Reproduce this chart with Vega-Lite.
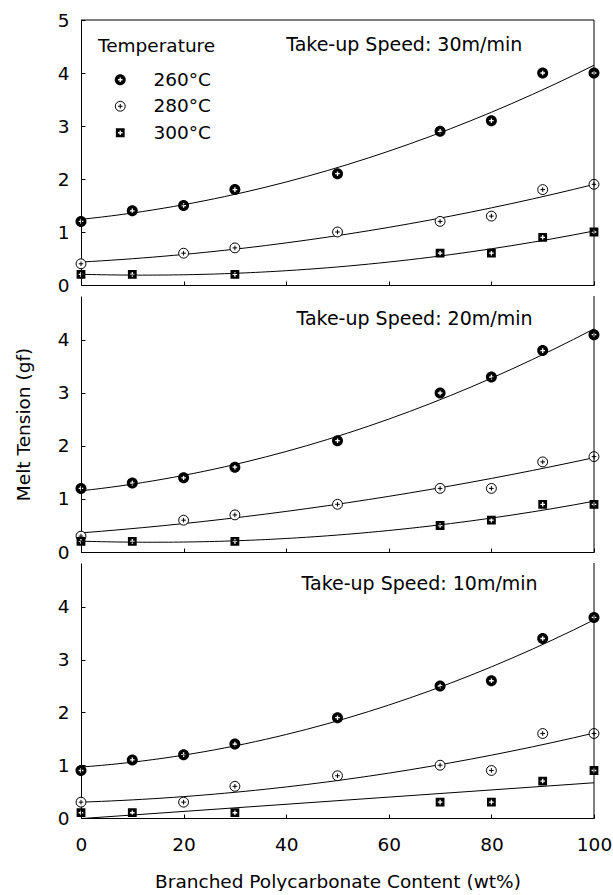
{
  "$schema": "https://vega.github.io/schema/vega-lite/v6.json",
  "padding": {"left": 14, "top": 11, "right": 0, "bottom": 0},
  "spacing": 0,
  "datasets": {
    "melt": [
      {"speed": 30, "temperature": "260°C", "content": 0, "tension": 1.2},
      {"speed": 30, "temperature": "260°C", "content": 10, "tension": 1.4},
      {"speed": 30, "temperature": "260°C", "content": 20, "tension": 1.5},
      {"speed": 30, "temperature": "260°C", "content": 30, "tension": 1.8},
      {"speed": 30, "temperature": "260°C", "content": 50, "tension": 2.1},
      {"speed": 30, "temperature": "260°C", "content": 70, "tension": 2.9},
      {"speed": 30, "temperature": "260°C", "content": 80, "tension": 3.1},
      {"speed": 30, "temperature": "260°C", "content": 90, "tension": 4.0},
      {"speed": 30, "temperature": "260°C", "content": 100, "tension": 4.0},
      {"speed": 30, "temperature": "280°C", "content": 0, "tension": 0.4},
      {"speed": 30, "temperature": "280°C", "content": 20, "tension": 0.6},
      {"speed": 30, "temperature": "280°C", "content": 30, "tension": 0.7},
      {"speed": 30, "temperature": "280°C", "content": 50, "tension": 1.0},
      {"speed": 30, "temperature": "280°C", "content": 70, "tension": 1.2},
      {"speed": 30, "temperature": "280°C", "content": 80, "tension": 1.3},
      {"speed": 30, "temperature": "280°C", "content": 90, "tension": 1.8},
      {"speed": 30, "temperature": "280°C", "content": 100, "tension": 1.9},
      {"speed": 30, "temperature": "300°C", "content": 0, "tension": 0.2},
      {"speed": 30, "temperature": "300°C", "content": 10, "tension": 0.2},
      {"speed": 30, "temperature": "300°C", "content": 30, "tension": 0.2},
      {"speed": 30, "temperature": "300°C", "content": 70, "tension": 0.6},
      {"speed": 30, "temperature": "300°C", "content": 80, "tension": 0.6},
      {"speed": 30, "temperature": "300°C", "content": 90, "tension": 0.9},
      {"speed": 30, "temperature": "300°C", "content": 100, "tension": 1.0},
      {"speed": 20, "temperature": "260°C", "content": 0, "tension": 1.2},
      {"speed": 20, "temperature": "260°C", "content": 10, "tension": 1.3},
      {"speed": 20, "temperature": "260°C", "content": 20, "tension": 1.4},
      {"speed": 20, "temperature": "260°C", "content": 30, "tension": 1.6},
      {"speed": 20, "temperature": "260°C", "content": 50, "tension": 2.1},
      {"speed": 20, "temperature": "260°C", "content": 70, "tension": 3.0},
      {"speed": 20, "temperature": "260°C", "content": 80, "tension": 3.3},
      {"speed": 20, "temperature": "260°C", "content": 90, "tension": 3.8},
      {"speed": 20, "temperature": "260°C", "content": 100, "tension": 4.1},
      {"speed": 20, "temperature": "280°C", "content": 0, "tension": 0.3},
      {"speed": 20, "temperature": "280°C", "content": 20, "tension": 0.6},
      {"speed": 20, "temperature": "280°C", "content": 30, "tension": 0.7},
      {"speed": 20, "temperature": "280°C", "content": 50, "tension": 0.9},
      {"speed": 20, "temperature": "280°C", "content": 70, "tension": 1.2},
      {"speed": 20, "temperature": "280°C", "content": 80, "tension": 1.2},
      {"speed": 20, "temperature": "280°C", "content": 90, "tension": 1.7},
      {"speed": 20, "temperature": "280°C", "content": 100, "tension": 1.8},
      {"speed": 20, "temperature": "300°C", "content": 0, "tension": 0.2},
      {"speed": 20, "temperature": "300°C", "content": 10, "tension": 0.2},
      {"speed": 20, "temperature": "300°C", "content": 30, "tension": 0.2},
      {"speed": 20, "temperature": "300°C", "content": 70, "tension": 0.5},
      {"speed": 20, "temperature": "300°C", "content": 80, "tension": 0.6},
      {"speed": 20, "temperature": "300°C", "content": 90, "tension": 0.9},
      {"speed": 20, "temperature": "300°C", "content": 100, "tension": 0.9},
      {"speed": 10, "temperature": "260°C", "content": 0, "tension": 0.9},
      {"speed": 10, "temperature": "260°C", "content": 10, "tension": 1.1},
      {"speed": 10, "temperature": "260°C", "content": 20, "tension": 1.2},
      {"speed": 10, "temperature": "260°C", "content": 30, "tension": 1.4},
      {"speed": 10, "temperature": "260°C", "content": 50, "tension": 1.9},
      {"speed": 10, "temperature": "260°C", "content": 70, "tension": 2.5},
      {"speed": 10, "temperature": "260°C", "content": 80, "tension": 2.6},
      {"speed": 10, "temperature": "260°C", "content": 90, "tension": 3.4},
      {"speed": 10, "temperature": "260°C", "content": 100, "tension": 3.8},
      {"speed": 10, "temperature": "280°C", "content": 0, "tension": 0.3},
      {"speed": 10, "temperature": "280°C", "content": 20, "tension": 0.3},
      {"speed": 10, "temperature": "280°C", "content": 30, "tension": 0.6},
      {"speed": 10, "temperature": "280°C", "content": 50, "tension": 0.8},
      {"speed": 10, "temperature": "280°C", "content": 70, "tension": 1.0},
      {"speed": 10, "temperature": "280°C", "content": 80, "tension": 0.9},
      {"speed": 10, "temperature": "280°C", "content": 90, "tension": 1.6},
      {"speed": 10, "temperature": "280°C", "content": 100, "tension": 1.6},
      {"speed": 10, "temperature": "300°C", "content": 0, "tension": 0.1},
      {"speed": 10, "temperature": "300°C", "content": 10, "tension": 0.1},
      {"speed": 10, "temperature": "300°C", "content": 30, "tension": 0.1},
      {"speed": 10, "temperature": "300°C", "content": 70, "tension": 0.3},
      {"speed": 10, "temperature": "300°C", "content": 80, "tension": 0.3},
      {"speed": 10, "temperature": "300°C", "content": 90, "tension": 0.7},
      {"speed": 10, "temperature": "300°C", "content": 100, "tension": 0.9}
    ]
  },
  "vconcat": [
    {
      "width": 513,
      "height": 265,
      "layer": [
        {
          "data": {"name": "melt"},
          "transform": [
            {"filter": "datum.speed == 30"},
            {"regression": "tension", "on": "content", "groupby": ["temperature"], "method": "poly", "order": 2, "extent": [0, 100]}
          ],
          "mark": {"type": "line", "color": "black", "strokeWidth": 1},
          "encoding": {
            "x": {"field": "content", "type": "quantitative", "scale": {"domain": [0, 100], "nice": false}, "axis": {"values": [0, 20, 40, 60, 80, 100], "labels": false, "title": null, "tickSize": -4}},
            "y": {"field": "tension", "type": "quantitative", "scale": {"domain": [0, 5], "nice": false}, "axis": {"values": [0, 1, 2, 3, 4, 5], "format": "d", "title": null, "tickSize": -4}},
            "detail": {"field": "temperature"}
          }
        },
        {
          "data": {"name": "melt"},
          "transform": [{"filter": "datum.speed == 30"}],
          "mark": {"type": "point", "opacity": 1, "size": 121, "strokeWidth": 1},
          "encoding": {
            "x": {"field": "content", "type": "quantitative"},
            "y": {"field": "tension", "type": "quantitative"},
            "shape": {
              "field": "temperature", "type": "nominal",
              "scale": {"domain": ["260°C", "280°C", "300°C"], "range": [
                "M1,0A1,1,0,1,1,-1,0A1,1,0,1,1,1,0Z M0.12,-0.42L-0.12,-0.42L-0.12,-0.12L-0.42,-0.12L-0.42,0.12L-0.12,0.12L-0.12,0.42L0.12,0.42L0.12,0.12L0.42,0.12L0.42,-0.12L0.12,-0.12Z",
                "M0.9,0A0.9,0.9,0,1,1,-0.9,0A0.9,0.9,0,1,1,0.9,0Z M-0.42,0L0.42,0M0,-0.42L0,0.42",
                "M-0.8,-0.8L0.8,-0.8L0.8,0.8L-0.8,0.8Z M0.12,-0.42L-0.12,-0.42L-0.12,-0.12L-0.42,-0.12L-0.42,0.12L-0.12,0.12L-0.12,0.42L0.12,0.42L0.12,0.12L0.42,0.12L0.42,-0.12L0.12,-0.12Z"
              ]},
              "legend": {"title": "Temperature", "orient": "top-left", "offset": 17, "padding": 0, "titleFontSize": 18.5, "titleFontWeight": "normal", "titlePadding": 15, "labelFontSize": 18.5, "rowPadding": 7.5, "symbolSize": 121, "symbolStrokeWidth": 1, "symbolOffset": 13, "labelOffset": 24, "titleColor": "black", "labelColor": "black"}
            },
            "fill": {"field": "temperature", "type": "nominal", "scale": {"domain": ["260°C", "280°C", "300°C"], "range": ["black", "white", "black"]}, "legend": {"title": "Temperature"}},
            "stroke": {"field": "temperature", "type": "nominal", "scale": {"domain": ["260°C", "280°C", "300°C"], "range": ["transparent", "black", "transparent"]}, "legend": {"title": "Temperature"}}
          }
        },
        {
          "data": {"values": [{}]},
          "mark": {"type": "text", "text": "Take-up Speed: 30m/min", "align": "left", "baseline": "middle", "fontSize": 19, "color": "black"},
          "encoding": {"x": {"datum": 40}, "y": {"datum": 4.53}}
        },
        {
          "data": {"values": [{}]},
          "mark": {"type": "rule", "color": "black", "strokeWidth": 1},
          "encoding": {"x": {"datum": 100}}
        },
        {
          "data": {"values": [{}]},
          "mark": {"type": "rule", "color": "black", "strokeWidth": 1},
          "encoding": {"y": {"datum": 5}}
        }
      ]
    },
    {
      "width": 513,
      "height": 256,
      "layer": [
        {
          "data": {"name": "melt"},
          "transform": [
            {"filter": "datum.speed == 20"},
            {"regression": "tension", "on": "content", "groupby": ["temperature"], "method": "poly", "order": 2, "extent": [0, 100]}
          ],
          "mark": {"type": "line", "color": "black", "strokeWidth": 1},
          "encoding": {
            "x": {"field": "content", "type": "quantitative", "scale": {"domain": [0, 100], "nice": false}, "axis": {"values": [0, 20, 40, 60, 80, 100], "labels": false, "title": null, "tickSize": -4}},
            "y": {"field": "tension", "type": "quantitative", "scale": {"domain": [0, 4.83], "nice": false}, "axis": {"values": [0, 1, 2, 3, 4], "format": "d", "title": "Melt Tension (gf)", "tickSize": -4}},
            "detail": {"field": "temperature"}
          }
        },
        {
          "data": {"name": "melt"},
          "transform": [{"filter": "datum.speed == 20"}],
          "mark": {"type": "point", "opacity": 1, "size": 121, "strokeWidth": 1},
          "encoding": {
            "x": {"field": "content", "type": "quantitative"},
            "y": {"field": "tension", "type": "quantitative"},
            "shape": {"field": "temperature", "type": "nominal", "legend": null},
            "fill": {"field": "temperature", "type": "nominal", "legend": null},
            "stroke": {"field": "temperature", "type": "nominal", "legend": null}
          }
        },
        {
          "data": {"values": [{}]},
          "mark": {"type": "text", "text": "Take-up Speed: 20m/min", "align": "left", "baseline": "middle", "fontSize": 19, "color": "black"},
          "encoding": {"x": {"datum": 42}, "y": {"datum": 4.4}}
        },
        {
          "data": {"values": [{}]},
          "mark": {"type": "rule", "color": "black", "strokeWidth": 1},
          "encoding": {"x": {"datum": 100}}
        }
      ]
    },
    {
      "width": 513,
      "height": 255,
      "layer": [
        {
          "data": {"name": "melt"},
          "transform": [
            {"filter": "datum.speed == 10 && datum.temperature != '300°C'"},
            {"regression": "tension", "on": "content", "groupby": ["temperature"], "method": "poly", "order": 2, "extent": [0, 100]}
          ],
          "mark": {"type": "line", "color": "black", "strokeWidth": 1},
          "encoding": {
            "x": {"field": "content", "type": "quantitative", "scale": {"domain": [0, 100], "nice": false}, "axis": {"values": [0, 20, 40, 60, 80, 100], "title": "Branched Polycarbonate Content (wt%)", "tickSize": -4, "labelFlush": false, "labelPadding": 21, "titlePadding": 19}},
            "y": {"field": "tension", "type": "quantitative", "scale": {"domain": [0, 4.83], "nice": false}, "axis": {"values": [0, 1, 2, 3, 4], "format": "d", "title": null, "tickSize": -4}},
            "detail": {"field": "temperature"}
          }
        },
        {
          "data": {"name": "melt"},
          "transform": [
            {"filter": "datum.speed == 10 && datum.temperature == '300°C'"},
            {"regression": "tension", "on": "content", "method": "linear", "extent": [0, 100]}
          ],
          "mark": {"type": "line", "color": "black", "strokeWidth": 1},
          "encoding": {
            "x": {"field": "content", "type": "quantitative"},
            "y": {"field": "tension", "type": "quantitative"}
          }
        },
        {
          "data": {"name": "melt"},
          "transform": [{"filter": "datum.speed == 10"}],
          "mark": {"type": "point", "opacity": 1, "size": 121, "strokeWidth": 1},
          "encoding": {
            "x": {"field": "content", "type": "quantitative"},
            "y": {"field": "tension", "type": "quantitative"},
            "shape": {"field": "temperature", "type": "nominal", "legend": null},
            "fill": {"field": "temperature", "type": "nominal", "legend": null},
            "stroke": {"field": "temperature", "type": "nominal", "legend": null}
          }
        },
        {
          "data": {"values": [{}]},
          "mark": {"type": "text", "text": "Take-up Speed: 10m/min", "align": "left", "baseline": "middle", "fontSize": 19, "color": "black"},
          "encoding": {"x": {"datum": 43}, "y": {"datum": 4.43}}
        },
        {
          "data": {"values": [{}]},
          "mark": {"type": "rule", "color": "black", "strokeWidth": 1},
          "encoding": {"x": {"datum": 100}}
        }
      ]
    }
  ],
  "resolve": {"legend": {"shape": "independent", "fill": "independent", "stroke": "independent"}},
  "config": {
    "font": "DejaVu Sans",
    "view": {"stroke": null},
    "axis": {
      "grid": false,
      "domainColor": "black",
      "tickColor": "black",
      "labelColor": "black",
      "titleColor": "black",
      "labelFontSize": 18.5,
      "titleFontSize": 18.5,
      "titleFontWeight": "normal",
      "labelPadding": 16,
      "titlePadding": 24
    }
  }
}
